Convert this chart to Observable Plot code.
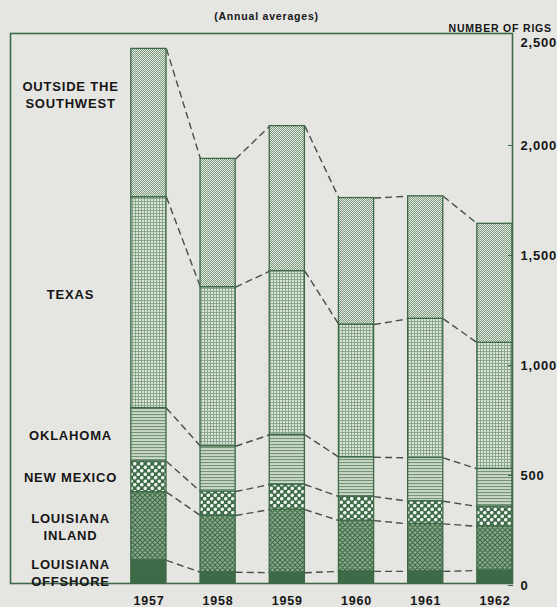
<!DOCTYPE html>
<html><head><meta charset="utf-8">
<script src="https://cdn.jsdelivr.net/npm/d3@7"></script>
<script src="https://cdn.jsdelivr.net/npm/@observablehq/plot@0.6"></script>
<style>
html,body{margin:0;padding:0;background:#e5e5e2;}
</style></head><body><div id="chart"></div>
<script>
const years = [1957, 1958, 1959, 1960, 1961, 1962];
const categories = ["Louisiana Offshore", "Louisiana Inland", "New Mexico", "Oklahoma", "Texas", "Outside the Southwest"];
const categoryLabels = ["LOUISIANA\nOFFSHORE", "LOUISIANA\nINLAND", "NEW MEXICO", "OKLAHOMA", "TEXAS", "OUTSIDE THE\nSOUTHWEST"];
const louisianaOffshore = [105, 51, 49, 55, 55, 59];
const louisianaInland = [310, 258, 287, 231, 216, 201];
const newMexico = [140, 109, 114, 109, 103, 90];
const oklahoma = [242, 206, 226, 179, 197, 171];
const texas = [959, 723, 744, 603, 632, 573];
const outsideSouthwest = [674, 583, 659, 575, 557, 541];
const yTicks = [0, 500, 1000, 1500, 2000, 2500];

const series = [louisianaOffshore, louisianaInland, newMexico, oklahoma, texas, outsideSouthwest];
const patternIds = ["pOff", "pInl", "pNM", "pOK", "pTX", "pOut"];
const hw = 0.254;
const green = "#3d6947";
const ink = "#161616";

const rows = [];
years.forEach((year, i) => {
  let cum = 0;
  series.forEach((s, c) => {
    rows.push({year, c, cat: categories[c], y1: cum, y2: cum + s[i]});
    cum += s[i];
  });
});
const topOf = (c, i) => rows.find(r => r.c === c && r.year === years[i]).y2;
const links = [];
categories.forEach((cat, c) => {
  for (let i = 0; i < years.length - 1; i++) {
    links.push({xa: years[i] + hw, ya: topOf(c, i), xb: years[i + 1] - hw, yb: topOf(c, i + 1)});
  }
});
const labelRows = categories.map((cat, c) => {
  const r = rows.find(r => r.c === c && r.year === years[0]);
  return {label: categoryLabels[c], y: (r.y1 + r.y2) / 2, c};
});

const labelOpts = {y: "y", text: "label", frameAnchor: "left", dx: 60, textAnchor: "middle", lineAnchor: "middle",
  fontSize: 13, fontWeight: "bold", lineHeight: 1.3, fill: ink};
const yAxisOpts = {anchor: "right", tickSize: -5, tickPadding: 13, tickFormat: d3.format(","),
  fontSize: 13, fontWeight: "bold", stroke: green, fill: ink};

const chart = Plot.plot({
  width: 557, height: 607,
  marginTop: 33, marginBottom: 24, marginLeft: 10, marginRight: 45,
  x: {domain: [1955, 1962 + hw], axis: null},
  y: {domain: [0, 2500], axis: null},
  style: {background: "#e5e5e2", fontFamily: "'Liberation Sans', Arial, sans-serif", letterSpacing: "0.8px", color: ink},
  marks: [
    Plot.link(links, {x1: "xa", y1: "ya", x2: "xb", y2: "yb", stroke: "#454f48", strokeWidth: 1.4, strokeDasharray: "7,4"}),
    ...categories.map((cat, c) => Plot.rect(rows.filter(r => r.c === c), {
      x1: d => d.year - hw, x2: d => d.year + hw, y1: "y1", y2: "y2",
      fill: `url(#${patternIds[c]})`, stroke: green, strokeWidth: 1.3
    })),
    Plot.frame({stroke: green, strokeWidth: 1.6}),
    Plot.axisY(yTicks.filter(t => t < 2500), {...yAxisOpts, dy: 2}),
    Plot.axisY(yTicks.filter(t => t === 2500), {...yAxisOpts, tickSize: 0, tickPadding: 8, dy: 9}),
    Plot.axisX(years, {anchor: "bottom", tickSize: 0, tickPadding: 13, tickFormat: d => String(d),
      fontSize: 12.5, fontWeight: "bold", fill: ink}),
    Plot.text(labelRows.filter(d => d.c < 4), labelOpts),
    Plot.text(labelRows.filter(d => d.c === 4), {...labelOpts, dy: -9}),
    Plot.text(labelRows.filter(d => d.c === 5), {...labelOpts, dy: -29}),
    Plot.text(["(Annual averages)"], {frameAnchor: "top", lineAnchor: "middle", dx: 5, dy: -17, fontSize: 10.5, fontWeight: "bold", fill: ink}),
    Plot.text(["NUMBER OF RIGS"], {frameAnchor: "top-right", textAnchor: "start", lineAnchor: "middle", dx: -64, dy: -5, fontSize: 10.5, fontWeight: "bold", fill: ink})
  ]
});

const defs = `
<defs>
<pattern id="pOff" patternUnits="userSpaceOnUse" width="4" height="4"><rect width="4" height="4" fill="#3e6b47"/></pattern>
<pattern id="pInl" patternUnits="userSpaceOnUse" width="5" height="5">
  <rect width="5" height="5" fill="#8aa98c"/>
  <path d="M0,0L5,5M-1,4L1,6M4,-1L6,1M5,0L0,5M-1,1L1,-1M4,6L6,4" stroke="#3d6a46" stroke-width="1.1" fill="none"/>
</pattern>
<pattern id="pNM" patternUnits="userSpaceOnUse" width="7" height="7">
  <rect width="7" height="7" fill="#3e6b47"/>
  <circle cx="1.75" cy="1.75" r="1.8" fill="#eef2ee"/>
  <circle cx="5.25" cy="5.25" r="1.8" fill="#eef2ee"/>
</pattern>
<pattern id="pOK" patternUnits="userSpaceOnUse" width="3" height="3">
  <rect width="3" height="3" fill="#cbd8c9"/>
  <rect width="3" height="1.1" fill="#719374"/>
</pattern>
<pattern id="pTX" patternUnits="userSpaceOnUse" width="3" height="3">
  <rect width="3" height="3" fill="#dde5db"/>
  <rect width="3" height="0.9" fill="#83a186"/>
  <rect width="0.9" height="3" fill="#83a186"/>
</pattern>
<pattern id="pOut" patternUnits="userSpaceOnUse" width="2" height="2">
  <rect width="2" height="2" fill="#7b9a7e"/>
  <rect width="1" height="1" fill="#e4eae3"/>
  <rect x="1" y="1" width="1" height="1" fill="#e4eae3"/>
</pattern>
</defs>`;
chart.insertAdjacentHTML("afterbegin", defs);
document.getElementById("chart").appendChild(chart);
</script>
</body></html>
